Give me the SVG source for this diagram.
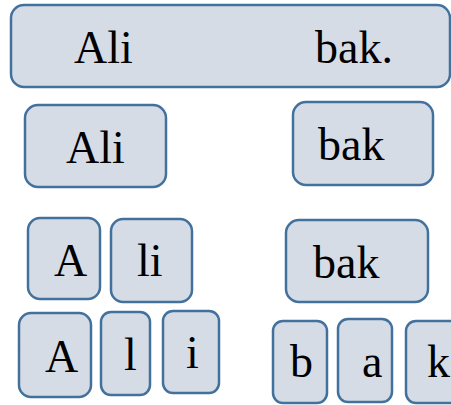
<svg xmlns="http://www.w3.org/2000/svg" width="451" height="405" viewBox="0 0 451 405">
<style>
.b{fill:#d6dce5;stroke:#41719c;stroke-width:2.5}
.t{fill:#000}
</style>
<rect width="451" height="405" fill="#fff"/>
<g font-family="Liberation Serif, serif" font-size="46">
<g id="n-sentence"><rect class="b" x="11" y="5" width="439" height="82" rx="13"/><text class="t" x="74" y="63">Ali</text><text class="t" x="315" y="63">bak.</text></g>
<g id="n-ali"><rect class="b" x="25" y="105" width="141" height="82" rx="13"/><text class="t" x="66" y="163">Ali</text></g>
<g id="n-bak"><rect class="b" x="293" y="102" width="140" height="83" rx="13"/><text class="t" x="318" y="160">bak</text></g>
<g id="n-A1"><rect class="b" x="28" y="218" width="72" height="81" rx="12"/><text class="t" x="54" y="276">A</text></g>
<g id="n-li"><rect class="b" x="111" y="219" width="81" height="83" rx="12"/><text class="t" x="137" y="276">li</text></g>
<g id="n-bak2"><rect class="b" x="286" y="220" width="142" height="82" rx="13"/><text class="t" x="313" y="278">bak</text></g>
<g id="n-A2"><rect class="b" x="19" y="313" width="72" height="84" rx="12"/><text class="t" x="45" y="372">A</text></g>
<g id="n-l"><rect class="b" x="101" y="312" width="49" height="83" rx="10"/><text class="t" x="124" y="370">l</text></g>
<g id="n-i"><rect class="b" x="163" y="311" width="56" height="82" rx="10"/><text class="t" x="186" y="368">i</text></g>
<g id="n-b"><rect class="b" x="273" y="321" width="54" height="82" rx="10"/><text class="t" x="290" y="377">b</text></g>
<g id="n-a"><rect class="b" x="338" y="319" width="54" height="83" rx="10"/><text class="t" x="362" y="377">a</text></g>
<g id="n-k"><rect class="b" x="406" y="321" width="60" height="82" rx="10"/><text class="t" x="427" y="377">k</text></g>
</g>
<g id="connectors"/>
</svg>
